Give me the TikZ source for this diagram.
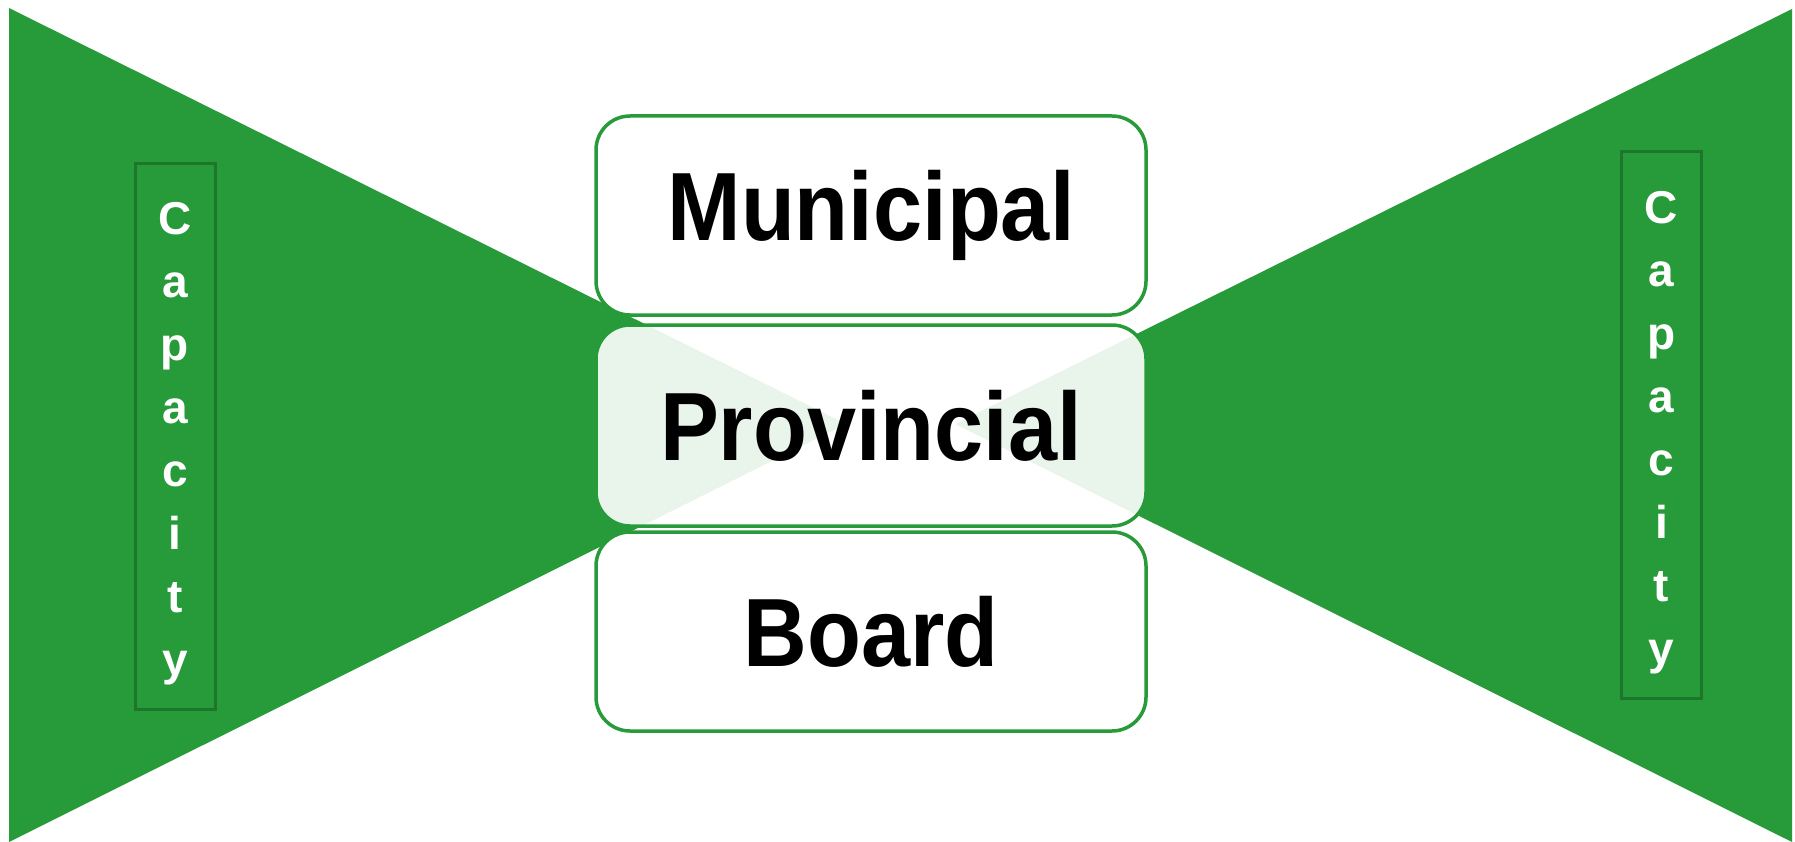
\documentclass[tikz,border=0pt]{standalone}
\usepackage{fontspec}
\setmainfont{Liberation Sans}
\newfontfamily\boxfont[FakeStretch=0.91]{Liberation Sans}
\definecolor{grn}{RGB}{39,154,58}
\definecolor{dgrn}{RGB}{30,118,44}
\begin{document}
\begin{tikzpicture}[x=1pt,y=-1pt,
  tri/.style={fill=grn, draw=none},
  level/.style={draw=grn, line width=3.5pt, rounded corners=34pt, fill=white,
    minimum width=550pt, minimum height=199pt, inner sep=0pt,
    font=\boxfont\bfseries\fontsize{97}{100}\selectfont},
  capbox/.style={draw=dgrn, line width=3pt, minimum width=80pt, inner sep=0pt},
  captext/.style={text=white, align=center, inner sep=0pt,
    font=\bfseries\fontsize{46}{63}\selectfont}
]
\useasboundingbox (0,0) rectangle (1795,842);
% the two triangles
\fill[tri] (9,8) -- (9,842) -- (846,424) -- cycle;
\fill[tri] (1792,9) -- (1792,842) -- (955,424) -- cycle;
% level boxes
\node[level] (mun) at (871,215.5) {\raisebox{-4pt}{Municipal}};
\node[level, fill opacity=0.9, text opacity=1, minimum height=201pt] (prov) at (871,425.5) {\raisebox{-4pt}{Provincial}};
\node[level] (board) at (871,631.5) {\raisebox{-4pt}{Board}};
% capacity boxes
\node[capbox, minimum height=545pt] (capL) at (175,436.5) {};
\node[capbox, minimum height=546pt] (capR) at (1661.5,425) {};
\node[captext] (txtL) at (175,443.5) {C\\a\\p\\a\\c\\i\\t\\y};
\node[captext] (txtR) at (1661.5,433) {C\\a\\p\\a\\c\\i\\t\\y};
\end{tikzpicture}
\end{document}
